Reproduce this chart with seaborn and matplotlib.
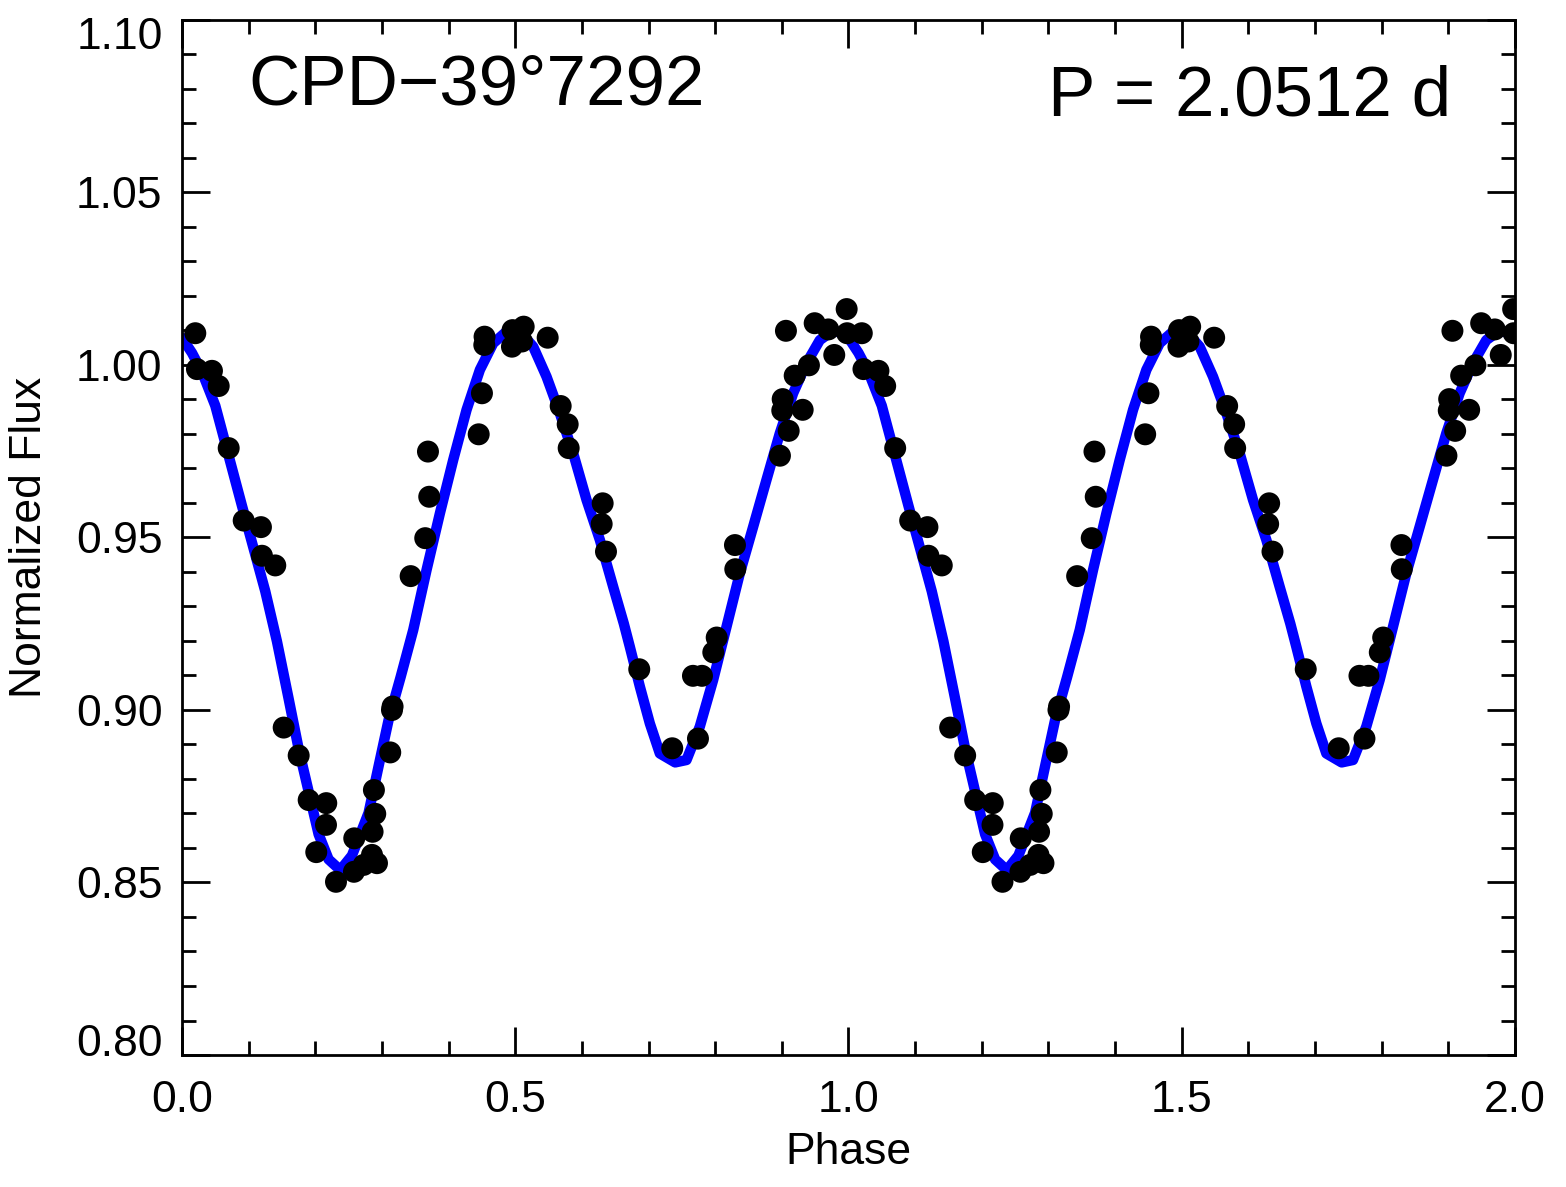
import numpy as np
import pandas as pd
import matplotlib
matplotlib.use("Agg")
import matplotlib.pyplot as plt
import matplotlib.transforms as mtrans
import seaborn as sns
from matplotlib.ticker import MultipleLocator, FixedLocator, FormatStrFormatter

# Observed points for one cycle (phase 0-1), shown twice
obs_phase = [0.0200, 0.0225, 0.0450, 0.0551, 0.0701, 0.0926, 0.1185, 0.1200,
             0.1400, 0.3431, 0.3650, 0.3710, 0.3691, 0.4452, 0.4501, 0.4536,
             0.4540, 0.4951, 0.4960, 0.5127, 0.5101, 0.1526, 0.1751, 0.1901,
             0.2165, 0.2161, 0.2015, 0.2311, 0.2585, 0.2580, 0.2726, 0.2851,
             0.2926, 0.2860, 0.2900, 0.2880, 0.3125, 0.3151, 0.3160, 0.5487,
             0.5682, 0.5787, 0.5802, 0.6312, 0.6297, 0.6362, 0.6861, 0.7356,
             0.7742, 0.7667, 0.7802, 0.7972, 0.8023, 0.8297, 0.8302, 0.8972,
             0.9103, 0.9007, 0.9013, 0.9313, 0.9193, 0.9407, 0.9062, 0.9493,
             0.9697, 0.9787, 0.9973, 0.9980]
obs_flux = [1.0092, 0.9988, 0.9983, 0.9939, 0.9759, 0.9549, 0.9530, 0.9447,
            0.9419, 0.9388, 0.9498, 0.9618, 0.9749, 0.9799, 0.9918, 1.0058,
            1.0082, 1.0053, 1.0101, 1.0111, 1.0068, 0.8949, 0.8868, 0.8739,
            0.8730, 0.8667, 0.8588, 0.8502, 0.8628, 0.8531, 0.8551, 0.8580,
            0.8556, 0.8647, 0.8699, 0.8768, 0.8877, 0.9000, 0.9010, 1.0079,
            0.9881, 0.9828, 0.9759, 0.9599, 0.9539, 0.9459, 0.9118, 0.8889,
            0.8917, 0.9099, 0.9099, 0.9167, 0.9210, 0.9478, 0.9408, 0.9737,
            0.9809, 0.9868, 0.9901, 0.9870, 0.9969, 0.9999, 1.0099, 1.0121,
            1.0103, 1.0029, 1.0162, 1.0092]

# Model curve for one cycle
model_phase = [0.000, 0.015, 0.030, 0.050, 0.070, 0.090, 0.1075, 0.125, 0.1425,
               0.160, 0.175, 0.190, 0.205, 0.220, 0.2375, 0.255, 0.280,
               0.295, 0.310, 0.328, 0.347, 0.367, 0.387, 0.407, 0.427,
               0.447, 0.467, 0.487, 0.507, 0.527, 0.547, 0.567, 0.587,
               0.607, 0.627, 0.647, 0.663, 0.672, 0.687, 0.702, 0.717,
               0.740, 0.757, 0.777, 0.797, 0.817, 0.837, 0.857, 0.877,
               0.897, 0.917, 0.937, 0.957, 0.977, 0.990]
model_flux = [1.0079, 1.0035, 0.9980, 0.9882, 0.9737, 0.9592, 0.9468, 0.9344, 0.9199,
              0.9033, 0.8888, 0.8764, 0.8640, 0.8567, 0.8536, 0.8578, 0.8702,
              0.8837, 0.8971, 0.9095, 0.9232, 0.9406, 0.9570, 0.9725, 0.9870,
              0.9986, 1.0063, 1.0097, 1.0097, 1.0053, 0.9966, 0.9860, 0.9744,
              0.9609, 0.9493, 0.9357, 0.9250, 0.9183, 0.9068, 0.8961, 0.8874,
              0.8848, 0.8855, 0.8952, 0.9087, 0.9241, 0.9396, 0.9531, 0.9667,
              0.9802, 0.9918, 1.0005, 1.0072, 1.0100, 1.0092]

y_ticks = [0.80, 0.85, 0.90, 0.95, 1.00, 1.05, 1.10]
x_ticks = [0.0, 0.5, 1.0, 1.5, 2.0]

star_name = "CPD\u221239\u00b07292"
period_text = "P = 2.0512 d"

# two cycles
obs = pd.DataFrame({
    "Phase": np.concatenate([obs_phase, np.array(obs_phase) + 1.0]),
    "Flux": np.concatenate([obs_flux, obs_flux]),
})
model = pd.DataFrame({
    "Phase": np.concatenate([model_phase, np.array(model_phase) + 1.0, [2.0]]),
    "Flux": np.concatenate([model_flux, model_flux, [model_flux[0]]]),
})

sns.set_style("ticks")
plt.rcParams["font.family"] = ["Liberation Sans", "DejaVu Sans"]
plt.rcParams["text.color"] = "black"
plt.rcParams["axes.labelcolor"] = "black"
plt.rcParams["xtick.color"] = "black"
plt.rcParams["ytick.color"] = "black"

fig = plt.figure(figsize=(15.66, 11.87), dpi=100)
ax = fig.add_axes([0.1162, 0.1112, 0.8512, 0.8720])

sns.lineplot(data=model, x="Phase", y="Flux", color="#0000ff", linewidth=7.5,
             estimator=None, sort=False, ax=ax, zorder=2,
             solid_joinstyle="round")
sns.scatterplot(data=obs, x="Phase", y="Flux", color="black", s=250,
                edgecolor="none", ax=ax, zorder=3)

ax.set_xlim(0, 2)
ax.set_ylim(0.80, 1.10)
ax.xaxis.set_major_locator(FixedLocator(x_ticks))
ax.xaxis.set_minor_locator(MultipleLocator(0.1))
ax.yaxis.set_major_locator(FixedLocator(y_ticks))
ax.yaxis.set_minor_locator(MultipleLocator(0.01))
ax.xaxis.set_major_formatter(FormatStrFormatter("%.1f"))
ax.yaxis.set_major_formatter(FormatStrFormatter("%.2f"))

ax.tick_params(which="both", direction="in", top=True, right=True,
               width=2, color="black", labelsize=32)
ax.tick_params(axis="x", pad=18)
ax.tick_params(axis="y", pad=14)
ax.tick_params(which="major", length=20)
ax.tick_params(which="minor", length=10)
for sp in ax.spines.values():
    sp.set_linewidth(2)
    sp.set_color("black")

# end labels on the y axis are nudged inside the axis range
yt = ax.yaxis.get_major_ticks()
yt[0].label1.set_transform(yt[0].label1.get_transform() +
                           mtrans.ScaledTranslation(0, 0.15, fig.dpi_scale_trans))
yt[-1].label1.set_transform(yt[-1].label1.get_transform() +
                            mtrans.ScaledTranslation(0, -0.13, fig.dpi_scale_trans))

ax.set_xlabel("Phase", fontsize=32, labelpad=8)
ax.set_ylabel("Normalized Flux", fontsize=32, labelpad=19)

ax.text(0.05, 0.968, star_name, transform=ax.transAxes, fontsize=51,
        ha="left", va="top")
ax.text(0.952, 0.957, period_text, transform=ax.transAxes, fontsize=51,
        ha="right", va="top")

fig.savefig("out.png", dpi=100)
